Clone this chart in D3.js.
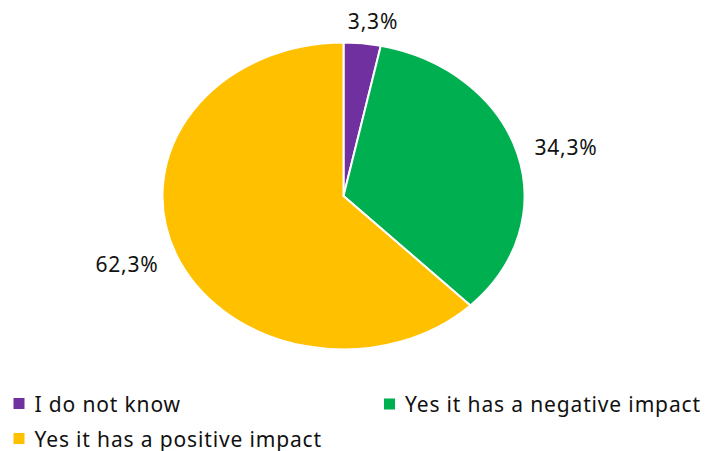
<!DOCTYPE html>
<html><head><meta charset="utf-8">
<script src="https://cdn.jsdelivr.net/npm/d3@7"></script>
<style>body{margin:0;background:#fff}svg{display:block;font-family:"Noto Sans",sans-serif}</style>
</head><body>
<svg id="c" width="707" height="451"></svg>
<script>
const categories = ["I do not know", "Yes it has a negative impact", "Yes it has a positive impact"];
const values = [3.3, 34.3, 62.3];
const labels = ["3,3%", "34,3%", "62,3%"];
const colors = ["#7030A0", "#00B050", "#FFC000"];

const svg = d3.select("#c");
const cx = 343.5, cy = 196, rx = 181, ry = 153.5;
const pie = d3.pie().sort(null).value(d => d);
const arcs = pie(values);
const arc = d3.arc().innerRadius(0).outerRadius(rx);
const g = svg.append("g").attr("transform", `translate(${cx},${cy}) scale(1,${ry/rx})`);
g.selectAll("path").data(arcs).join("path")
  .attr("d", arc).attr("fill", (d,i) => colors[i])
  .attr("stroke", "#fff").attr("stroke-width", 2).attr("vector-effect","non-scaling-stroke");

// labels placed outside
const labelPos = [[373, 21], [566, 147], [127, 264]];
svg.selectAll("text.lbl").data(labels).join("text").attr("class","lbl")
  .attr("x", (d,i) => labelPos[i][0]).attr("y", (d,i) => labelPos[i][1])
  .attr("text-anchor","middle").attr("dominant-baseline","central")
  .attr("font-size", 21).attr("letter-spacing", 0.8).attr("fill", "#111").text(d => d);

// legend
const legPos = [[13.5, 403.5], [384, 404], [13.5, 438.5]];
const leg = svg.selectAll("g.leg").data(categories).join("g").attr("class","leg")
  .attr("transform", (d,i) => `translate(${legPos[i][0]},${legPos[i][1]})`);
leg.append("rect").attr("x",0).attr("y",-5.5).attr("width",11).attr("height",11).attr("fill",(d,i)=>colors[i]);
leg.append("text").attr("x",21).attr("y",0).attr("dominant-baseline","central")
  .attr("font-size", 21).attr("letter-spacing", 0.85).attr("fill","#111").text(d=>d);
</script>
</body></html>
